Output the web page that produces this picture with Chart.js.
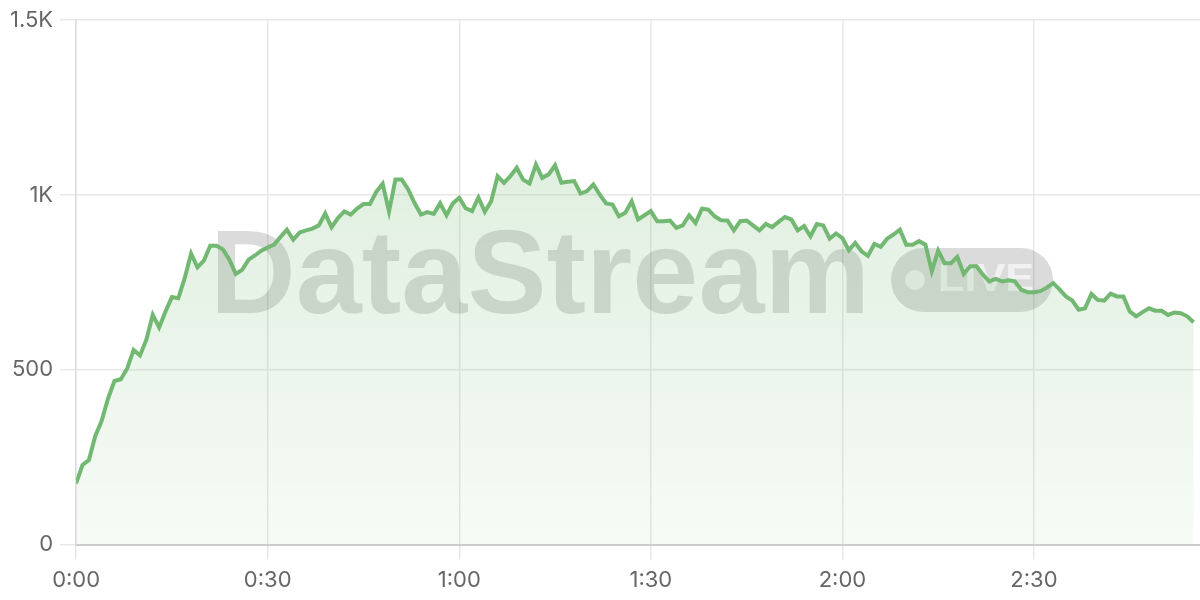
<!DOCTYPE html>
<html>
<head>
<meta charset="utf-8">
<script src="https://cdn.jsdelivr.net/npm/chart.js@4.4.1/dist/chart.umd.min.js"></script>
<style>
  html, body { margin: 0; padding: 0; background: #ffffff; }
  #wrap { width: 1200px; height: 600px; }
</style>
</head>
<body>
<div id="wrap"><canvas id="c" width="1200" height="600"></canvas></div>
<script>
// Viewers per second (0:00 .. 2:55)
const viewers = [
  175, 228, 242, 311, 354, 418, 468, 473, 504, 557, 541, 586, 657, 621, 667, 708, 705, 762, 832, 793,
  812, 855, 855, 844, 815, 774, 786, 815, 827, 841, 850, 858, 880,
  901, 872, 893, 899, 904, 913, 947, 908, 934, 953, 944, 961, 974, 974, 1009, 1032, 953,
  1044, 1044, 1016, 977, 944, 951, 946, 976, 942, 976, 992,
  962, 954, 993, 952, 982, 1054, 1035, 1054, 1078, 1044, 1033, 1087, 1049, 1059, 1085, 1035, 1038, 1040,
  1004, 1011, 1030, 1001, 976, 973, 939, 949, 982, 930, 942, 954, 925, 925, 927, 906,
  913, 942, 920, 961, 958, 939, 928, 927, 899, 925, 927, 913, 899, 917, 908, 923, 937, 930, 899, 911,
  882, 917, 913, 875, 890, 877, 842, 863, 839, 826, 860, 852,
  875, 887, 901, 858, 858, 868, 858, 782, 841, 805, 805, 823, 774, 796, 796, 772, 753, 760, 753, 756,
  753, 729, 722, 722, 725, 735, 748, 730,
  710, 698, 672, 676, 717, 700, 698, 718, 710, 710, 667, 653, 665, 676, 669, 669, 657, 664, 662, 653, 636
];
const seconds = viewers.map((_, i) => i);
const xTickValues = [0, 30, 60, 90, 120, 150];
const xTickLabels = ['0:00', '0:30', '1:00', '1:30', '2:00', '2:30'];
const yTickValues = [0, 500, 1000, 1500];
const yTickLabels = ['0', '500', '1K', '1.5K'];

const points = seconds.map((s, i) => ({ x: s, y: viewers[i] }));

function fitText(ctx, txt, x, y, targetW) {
  const w = ctx.measureText(txt).width;
  ctx.save();
  ctx.translate(x, y);
  ctx.scale(targetW / w, 1);
  ctx.fillText(txt, 0, 0);
  ctx.restore();
}

const watermark = {
  id: 'watermark',
  beforeDatasetsDraw(chart) {
    const ctx = chart.ctx;
    ctx.save();
    ctx.fillStyle = 'rgba(0,0,0,0.14)';
    ctx.font = 'bold 118px "Liberation Sans", Arial, sans-serif';
    ctx.textBaseline = 'alphabetic';
    ctx.textAlign = 'left';
    fitText(ctx, 'DataStream', 210, 313, 660);
    ctx.restore();

    // LIVE pill
    ctx.save();
    const px = 891, py = 248, pw = 162, ph = 64, r = 32;
    ctx.beginPath();
    ctx.moveTo(px + r, py);
    ctx.lineTo(px + pw - r, py);
    ctx.arc(px + pw - r, py + r, r, -Math.PI / 2, Math.PI / 2);
    ctx.lineTo(px + r, py + ph);
    ctx.arc(px + r, py + r, r, Math.PI / 2, Math.PI * 1.5);
    ctx.closePath();
    ctx.fillStyle = 'rgba(0,0,0,0.14)';
    ctx.fill();
    ctx.fillStyle = 'rgba(255,255,255,0.6)';
    ctx.beginPath();
    ctx.arc(915, 280, 10, 0, Math.PI * 2);
    ctx.fill();
    ctx.font = 'bold 38px "Liberation Sans", Arial, sans-serif';
    ctx.textBaseline = 'alphabetic';
    fitText(ctx, 'LIVE', 938, 291, 96);
    ctx.restore();
  }
};

new Chart(document.getElementById('c'), {
  type: 'line',
  data: {
    datasets: [{
      data: points,
      borderColor: '#72b872',
      borderWidth: 4,
      pointRadius: 0,
      tension: 0,
      fill: 'origin',
      backgroundColor: (c) => {
        const area = c.chart.chartArea;
        if (!area) return 'rgba(112,184,112,0.15)';
        const g = c.chart.ctx.createLinearGradient(0, area.top, 0, area.bottom);
        g.addColorStop(0, 'rgba(112,184,112,0.28)');
        g.addColorStop(1, 'rgba(112,184,112,0.06)');
        return g;
      }
    }]
  },
  options: {
    responsive: false,
    animation: false,
    layout: { padding: { top: 6, left: 3, right: 0, bottom: -2 } },
    plugins: { legend: { display: false }, tooltip: { enabled: false } },
    scales: {
      x: {
        type: 'linear',
        min: 0,
        max: 176,
        afterBuildTicks: (axis) => { axis.ticks = xTickValues.map(v => ({ value: v })); },
        ticks: {
          callback: (v) => xTickLabels[xTickValues.indexOf(v)],
          font: { family: 'Inter', size: 22 },
          color: '#666',
          padding: 8,
          maxRotation: 0
        },
        grid: { color: '#e8e8e8', tickLength: 15, lineWidth: 1.5 },
        border: { color: '#cccccc', width: 2 }
      },
      y: {
        min: 0,
        max: 1500,
        afterBuildTicks: (axis) => { axis.ticks = yTickValues.map(v => ({ value: v })); },
        ticks: {
          callback: (v) => yTickLabels[yTickValues.indexOf(v)],
          font: { family: 'Inter', size: 22 },
          color: '#666',
          padding: 7
        },
        grid: { color: '#e8e8e8', tickLength: 16, lineWidth: 1.5 },
        border: { color: '#dddddd', width: 1.5 }
      }
    }
  },
  plugins: [watermark]
});
</script>
</body>
</html>
